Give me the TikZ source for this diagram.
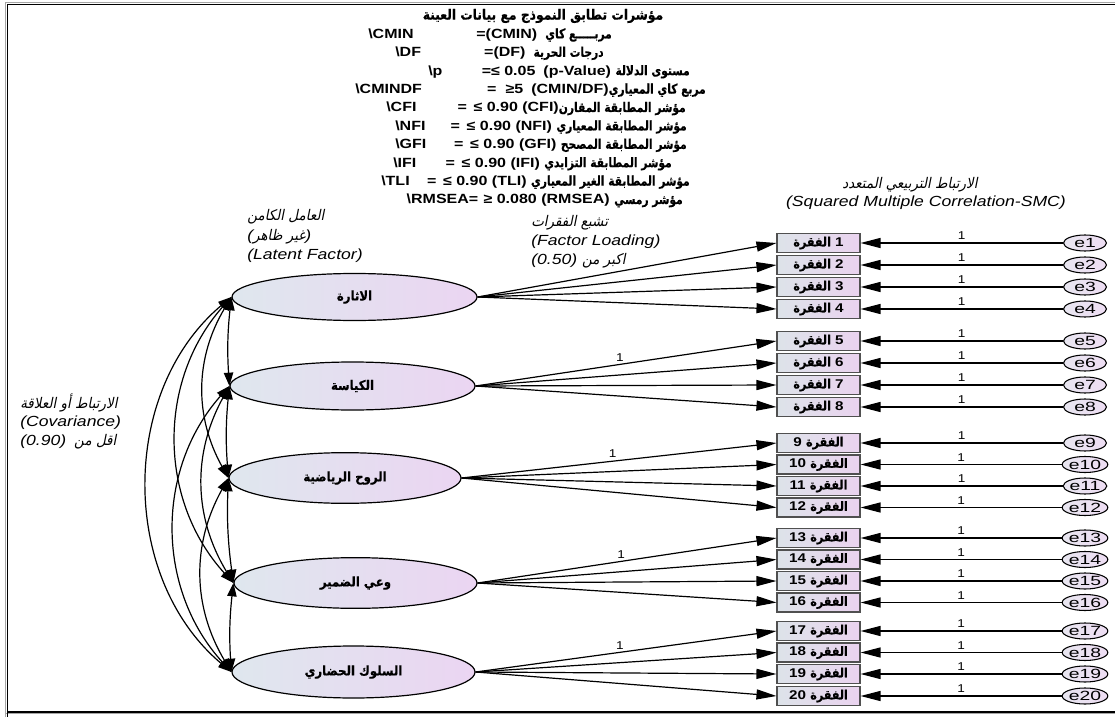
\documentclass[tikz,border=0pt]{standalone}
\usepackage{fontspec}
\setmainfont{Liberation Sans}[FakeStretch=1.2]
\newfontfamily\arabicfont[Script=Arabic,FakeStretch=0.88,BoldFeatures={FakeBold=0.5}]{DejaVu Sans}
\newfontfamily\arabicnarrow[Script=Arabic,FakeStretch=0.8,BoldFeatures={FakeBold=0.5}]{DejaVu Sans}
\newfontfamily\arabicslanted[Script=Arabic,FakeSlant=0.2,FakeStretch=0.92]{DejaVu Sans}
\newfontfamily\errfont[FakeStretch=1.45]{Liberation Sans}
\TeXXeTstate=1
\usetikzlibrary{shapes.geometric,arrows.meta}

\definecolor{latL}{HTML}{DFE7EE}
\definecolor{latR}{HTML}{EBD5F2}
\definecolor{boxL}{HTML}{DDE3E9}
\definecolor{boxR}{HTML}{EAD3EF}
\definecolor{boxline}{HTML}{505050}
\definecolor{errL}{HTML}{E8E6F0}
\definecolor{errR}{HTML}{EEDDF3}

% Arabic runs: bold upright, bold narrow and slanted
\newcommand{\arb}[1]{{\arabicfont\upshape\bfseries\beginR #1\endR}}
\newcommand{\arn}[1]{{\arabicnarrow\upshape\bfseries\beginR #1\endR}}
\newcommand{\ari}[1]{{\arabicslanted\upshape\mdseries\beginR #1\endR}}

\begin{document}
\begin{tikzpicture}[x=0.75pt,y=-0.75pt,
  latent/.style={ellipse, draw=black, line width=0.9pt, left color=latL, right color=latR,
    inner sep=0pt, font=\fontsize{10}{11}\selectfont\bfseries},
  item/.style={rectangle, draw=boxline, line width=0.8pt, left color=boxL, right color=boxR,
    minimum width=62.25pt, minimum height=14.25pt, inner sep=0pt,
    font=\fontsize{9.5}{10}\selectfont\bfseries},
  err/.style={ellipse, draw=black, line width=0.8pt, left color=errL, right color=errR,
    minimum width=32.25pt, minimum height=12pt, inner sep=0pt,
    font=\errfont\fontsize{10}{10}\selectfont},
  load/.style={line width=0.9pt, -{Triangle[length=15pt,width=7.5pt]}},
  cov/.style={line width=0.9pt, {Triangle[length=10pt,width=7pt]}-{Triangle[length=10pt,width=7pt]}},
  title/.style={font=\fontsize{10.5}{12}\selectfont\bfseries, inner sep=0pt},
  hdr/.style={font=\fontsize{10}{12}\selectfont\bfseries, inner sep=0pt},
  note/.style={font=\fontsize{11}{13}\selectfont\itshape, inner sep=0pt},
  one/.style={font=\fontsize{8.5}{9}\selectfont, inner sep=0.5pt}
]
\useasboundingbox (0,0) rectangle (1115,717);

% frame
\draw[line width=1.2pt, black!35] (5.5,730) -- (5.5,2.5) -- (1130,2.5);
\draw[line width=1.4pt, black!35] (5.5,713.5) -- (1130,713.5);
\draw[line width=1.3pt] (7.5,730) -- (7.5,4.5) -- (1130,4.5);
\draw[line width=1.3pt] (7.5,711.8) -- (1130,711.8);

% fit indices
\node[title] (h0) at (543,16) {\arb{مؤشرات تطابق النموذج مع بيانات العينة}};
\node[hdr, anchor=base west] (h1a) at (368,38.4) {\textbackslash CMIN};
\node[hdr, anchor=base east] (h1b) at (612,38.4) {=(CMIN)\hspace{6pt}\arn{مربـــــع كاي}};
\node[hdr, anchor=base west] (h2a) at (395,56.8) {\textbackslash DF};
\node[hdr, anchor=base east] (h2b) at (604,56.8) {=(DF)\hspace{6pt}\arn{درجات الحرية}};
\node[hdr, anchor=base west] (h3a) at (428,75.2) {\textbackslash p};
\node[hdr, anchor=base east] (h3b) at (690,75.2) {=≤ 0.05\hspace{6pt}(p-Value) \arn{مستوى الدلالة}};
\node[hdr, anchor=base west] (h4a) at (355,93.6) {\textbackslash CMINDF};
\node[hdr, anchor=base east] (h4b) at (706,93.6) {=\hspace{7pt}≥5\hspace{6pt}(CMIN/DF)\arn{مربع كاي المعياري}};
\node[hdr, anchor=base west] (h5a) at (386,112) {\textbackslash CFI};
\node[hdr, anchor=base east] (h5b) at (686,112) {=\hspace{5pt}≤ 0.90 (CFI)\arn{مؤشر المطابقة المقارن}};
\node[hdr, anchor=base west] (h6a) at (395,130.4) {\textbackslash NFI};
\node[hdr, anchor=base east] (h6b) at (687,130.4) {=\hspace{5pt}≤ 0.90 (NFI) \arn{مؤشر المطابقة المعياري}};
\node[hdr, anchor=base west] (h7a) at (395,148.8) {\textbackslash GFI};
\node[hdr, anchor=base east] (h7b) at (687,148.8) {=\hspace{5pt}≤ 0.90 (GFI) \arn{مؤشر المطابقة المصحح}};
\node[hdr, anchor=base west] (h8a) at (393,167.2) {\textbackslash IFI};
\node[hdr, anchor=base east] (h8b) at (672,167.2) {=\hspace{5pt}≤ 0.90 (IFI) \arn{مؤشر المطابقة التزايدي}};
\node[hdr, anchor=base west] (h9a) at (381,185.6) {\textbackslash TLI};
\node[hdr, anchor=base east] (h9b) at (690,185.6) {=\hspace{5pt}≤ 0.90 (TLI) \arn{مؤشر المطابقة الغير المعياري}};
\node[hdr, anchor=base east] (h10) at (683,204) {\textbackslash RMSEA=\hspace{4pt}≥ 0.080 (RMSEA) \arn{مؤشر رمسي}};

% explanatory notes
\node[note, anchor=west] (nl1) at (247,217) {\ari{العامل الكامن}};
\node[note, anchor=west] (nl2) at (247,237) {(\ari{غير ظاهر})};
\node[note, anchor=west] (nl3) at (247,256) {(Latent Factor)};
\node[note, anchor=west] (nf1) at (531,223) {\ari{تشبع الفقرات}};
\node[note, anchor=west] (nf2) at (531,242) {(Factor Loading)};
\node[note, anchor=west] (nf3) at (531,261) {(0.50) \ari{اكبر من}};
\node[note] (ns1) at (910,185) {\ari{الارتباط التربيعي المتعدد}};
\node[note] (ns2) at (926,203) {(Squared Multiple Correlation-SMC)};
\node[note, anchor=west] (nc1) at (20,403) {\ari{الارتباط أو العلاقة}};
\node[note, anchor=west] (nc2) at (20,423) {(Covariance)};
\node[note, anchor=west] (nc3) at (20,442) {(0.90)\hspace{6pt}\ari{اقل من}};

% latent factors
\node[latent, minimum width=183.75pt, minimum height=35.25pt] (E1) at (354.5,297) {\arb{الاثارة}};
\node[latent, minimum width=183.75pt, minimum height=36pt] (E2) at (352.5,386) {\arb{الكياسة}};
\node[latent, minimum width=174pt, minimum height=38pt] (E3) at (345,478) {\arb{الروح الرياضية}};
\node[latent, minimum width=182.25pt, minimum height=38pt] (E4) at (355.5,583) {\arb{وعي الضمير}};
\node[latent, minimum width=182.25pt, minimum height=39pt] (E5) at (353.5,672) {\arb{السلوك الحضاري}};

% observed items with their error terms
\foreach \i/\y in {1/243,2/265,3/287,4/309,5/341,6/363,7/385,8/407,
                   9/443,10/464.5,11/486,12/507.5,13/538,14/559.5,15/581,16/602.5,
                   17/631,18/652.5,19/674,20/696}{
  \ifnum\i<9
    \node[item] (b\i) at (818.5,\y) {\arb{الفقرة}~\i};
  \else
    \node[item] (b\i) at (818.5,\y) {\i~\arb{الفقرة}};
  \fi
  \node[err] (e\i) at (1085,\y) {e\i};
  \draw[load] (e\i.west) -- (b\i.east) node[midway, above=1.5pt, one] {1};
}

% factor loadings
\foreach \i/\f in {1/1,2/1,3/1,4/1}
  \draw[load] (E\f.east) -- (b\i.west);
\foreach \f/\a/\b/\c/\d in {2/5/6/7/8, 3/9/10/11/12, 4/13/14/15/16, 5/17/18/19/20}{
  \draw[load] (E\f.east) -- (b\a.west) node[pos=0.48, above=1.5pt, one] {1};
  \draw[load] (E\f.east) -- (b\b.west);
  \draw[load] (E\f.east) -- (b\c.west);
  \draw[load] (E\f.east) -- (b\d.west);
}

% covariances between factors
\draw[cov] (E1.west) to[bend right=5] (E2.west);
\draw[cov] (E2.west) to[bend right=5] (E3.west);
\draw[cov] (E3.west) to[bend right=5] (E4.west);
\draw[cov] (E4.west) to[bend right=5] (E5.west);
\draw[cov] (E1.west) to[bend right=30] (E3.west);
\draw[cov] (E2.west) to[bend right=30] (E4.west);
\draw[cov] (E3.west) to[bend right=30] (E5.west);
\draw[cov] (E1.west) to[bend right=42] (E4.west);
\draw[cov] (E2.west) to[bend right=42] (E5.west);
\draw[cov] (E1.west) to[bend right=50] (E5.west);
\end{tikzpicture}
\end{document}
